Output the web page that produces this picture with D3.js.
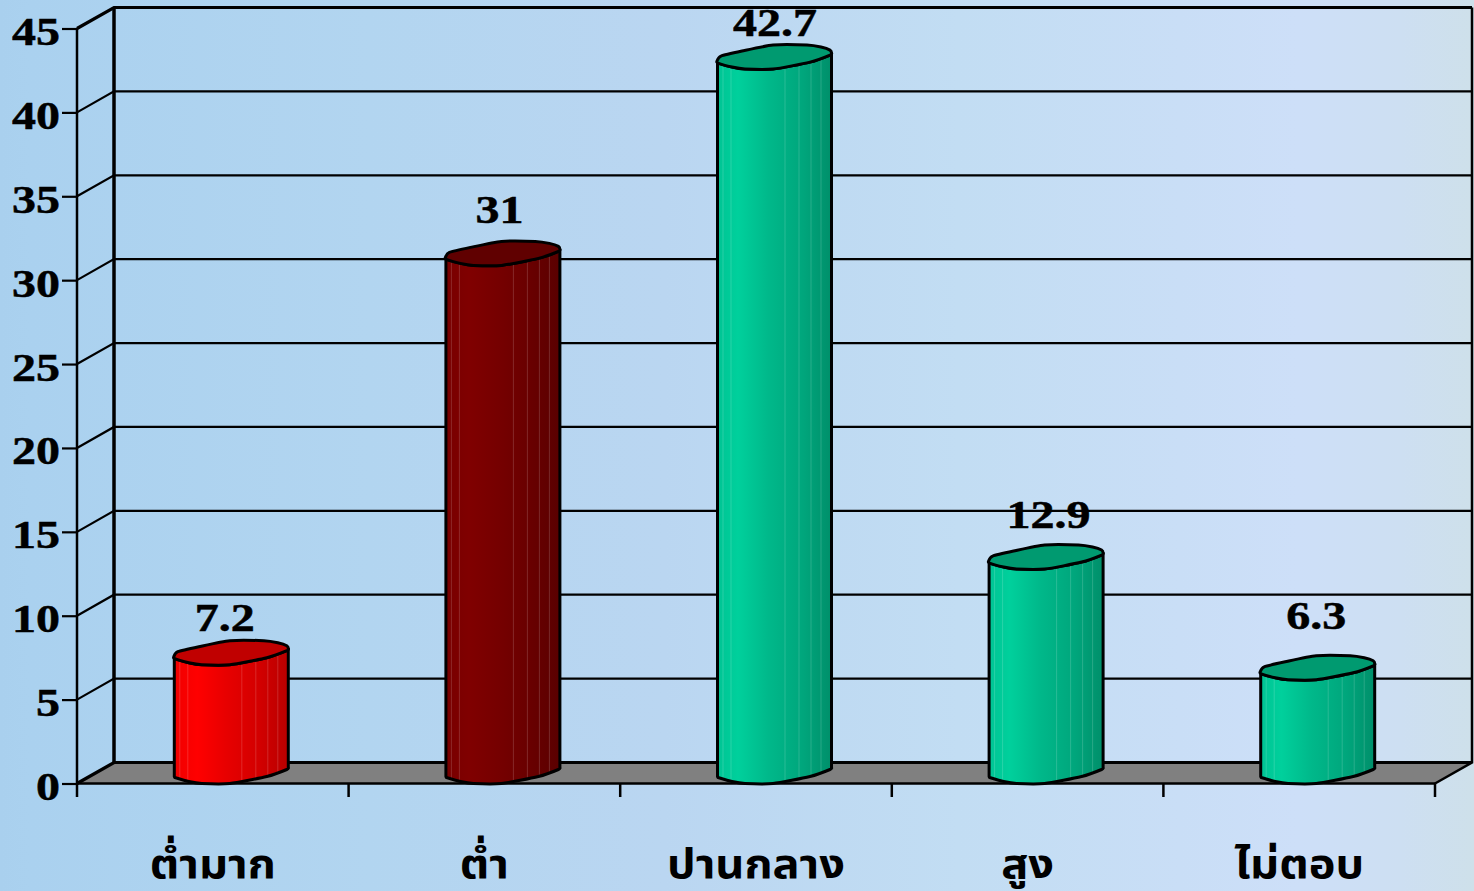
<!DOCTYPE html>
<html><head><meta charset="utf-8">
<style>html,body{margin:0;padding:0;overflow:hidden;background:#b8d6f0}svg{display:block}</style>
<script src="https://cdn.jsdelivr.net/npm/d3@7/dist/d3.min.js"></script>
</head><body><svg id="c" width="1474" height="891"></svg>
<script>
const categories = ["ต่ำมาก","ต่ำ","ปานกลาง","สูง","ไม่ตอบ"];
const values = [7.2,31,42.7,12.9,6.3];
const valueLabels = ["7.2","31","42.7","12.9","6.3"];
const yTicks = [0,5,10,15,20,25,30,35,40,45];
const colorKeys = ["red","maroon","green","green","green"];

const W=1474,H=891, X0=77,X1=1435, Y0=783.5,Y45=28.5, DX=37,DY=-21;
const NUM='"Liberation Serif","Times New Roman",serif';
const THAI='"Liberation Serif","Noto Sans Thai","Noto Serif Thai",Loma,"Noto Sans",serif';
const NUM_STRETCH=1.2, THAI_STRETCH=1.1;
const svg=d3.select("#c"), defs=svg.append("defs");
const x=d3.scaleBand().domain(categories).range([X0,X1]);
const y=d3.scaleLinear().domain([0,45]).range([Y0,Y45]);

function grad(id,stops){const g=defs.append("linearGradient").attr("id",id);
  stops.forEach(s=>g.append("stop").attr("offset",s[0]).attr("stop-color",s[1]));}
grad("bg",[[0,"#a9d0ee"],[.02,"#aad1ef"],[.25,"#b2d5f0"],[.45,"#bad6f1"],[.65,"#c2ddf3"],[.8,"#c9def6"],[.88,"#cddff8"],[.95,"#cddff2"],[1,"#cee0ea"]]);
grad("red",[[0,"#f00000"],[.2,"#ff0000"],[.45,"#e80000"],[.75,"#d20000"],[1,"#b80000"]]);
grad("maroon",[[0,"#780000"],[.2,"#800000"],[.5,"#740000"],[.75,"#680000"],[1,"#5a0000"]]);
grad("green",[[0,"#00c494"],[.18,"#00d09c"],[.45,"#00b88a"],[.75,"#00a67c"],[1,"#008f6a"]]);
const capColor={red:"#c00000",maroon:"#600000",green:"#009a70"};

svg.append("rect").attr("width",W).attr("height",H).attr("fill","url(#bg)");

// walls, floor and gridlines
svg.append("polygon").attr("fill","#808080")
  .attr("points",[[X0,Y0],[X0+DX,Y0+DY],[X1+DX,Y0+DY],[X1,Y0]].join(" "));
const grid=svg.append("g").attr("fill","none").attr("stroke","#000");
grid.selectAll("path").data(yTicks).join("path")
  .attr("stroke-width",d=>d===45||d===0?3.2:2.2)
  .attr("d",d=>`M${X0},${y(d)}L${X0+DX},${y(d)+DY}L${X1+DX},${y(d)+DY}`);
grid.append("path").attr("stroke-width",3.5).attr("d",`M${X0+DX},${Y45+DY}V${Y0+DY}`);
grid.append("path").attr("stroke-width",2.5).attr("d",`M${X1+DX},${Y45+DY}V${Y0+DY}L${X1},${Y0}`);

// axes
const yAxis=d3.axisLeft(y).tickValues(yTicks).tickSize(15).tickPadding(3).tickFormat(d3.format("d"));
const gy=svg.append("g").attr("transform",`translate(${X0},0)`).call(yAxis);
gy.select(".domain").attr("stroke","#000").attr("stroke-width",2.5).attr("d",`M0,${Y45}V${Y0}`);
gy.selectAll("line").attr("stroke","#000").attr("stroke-width",2.2);
gy.selectAll("text").attr("font-family",NUM).attr("font-weight",700).attr("font-size",40).attr("fill","#000")
  .attr("stroke","#000").attr("stroke-width",.5)
  .attr("x",-17/NUM_STRETCH).attr("dy","0.4em").attr("transform",`scale(${NUM_STRETCH},1)`);

const xAxis=d3.axisBottom(x).tickSize(0).tickPadding(0).tickFormat("");
const gx=svg.append("g").attr("transform",`translate(0,${Y0})`).call(xAxis);
gx.select(".domain").attr("stroke","#000").attr("stroke-width",2.5).attr("d",`M${X0},0H${X1}`);
gx.selectAll(".tick").remove();
gx.selectAll("line.t").data(d3.range(categories.length+1)).join("line").attr("class","t")
  .attr("x1",i=>X0+i*x.bandwidth()).attr("x2",i=>X0+i*x.bandwidth())
  .attr("y1",0).attr("y2",13.5).attr("stroke","#000").attr("stroke-width",2.5);

// cylinders: the outline is derived from the scales
const upper=[[0,-6],[4,-11],[25,-16],[56,-22],[90,-22],[104,-20],[113,-17]];
const lower=[[114.5,-14],[113,-12],[93,-5],[56,2],[28,2],[15,0],[1,-4]];
const stripes=[6,14,68,82,94,104];
const closed=d3.line().curve(d3.curveCardinalClosed.tension(.35));
const open=d3.line().curve(d3.curveCardinal.tension(.35));
const BAR_LEFT=-39, BOTTOM_SHIFT=-2;
const at=(pts,ox,oy)=>pts.map(p=>[p[0]+ox,p[1]+oy]);

const bars=svg.selectAll("g.bar").data(values).join("g").attr("class","bar");
bars.each(function(v,i){
  const g=d3.select(this), cx=x(categories[i])+x.bandwidth()/2, ox=cx+BAR_LEFT, top=y(v);
  const lowT=at(lower,ox,top), lowB=at(lower,ox,Y0+BOTTOM_SHIFT);
  const body=open(lowT)+`L${ox+.5},${top-5}V${Y0+BOTTOM_SHIFT-5}`+open(lowB.slice().reverse()).replace(/^M/,"L")+`L${ox+114.5},${top-14}Z`;
  defs.append("clipPath").attr("id","cp"+i).append("path").attr("d",body);
  g.append("path").attr("d",body).attr("fill",`url(#${colorKeys[i]})`);
  g.append("g").attr("clip-path",`url(#cp${i})`).selectAll("line").data(stripes).join("line")
    .attr("x1",s=>ox+s).attr("x2",s=>ox+s).attr("y1",top-25).attr("y2",Y0+5)
    .attr("stroke","#fff").attr("stroke-opacity",.16).attr("stroke-width",1);
  g.append("path").attr("d",body).attr("fill","none").attr("stroke","#000").attr("stroke-width",3).attr("stroke-linejoin","round");
  g.append("path").attr("d",closed(at(upper.concat(lower),ox,top)))
    .attr("fill",capColor[colorKeys[i]]).attr("stroke","#000").attr("stroke-width",3);
});

// value labels
const labelDx=[12,15,19,21,17], labelGap=[9,17,8,16,26];
svg.selectAll("text.v").data(values).join("text").attr("class","v")
  .attr("transform",(v,i)=>`translate(${x(categories[i])+x.bandwidth()/2+labelDx[i]},${y(v)-23-labelGap[i]}) scale(${NUM_STRETCH},1)`)
  .attr("text-anchor","middle").attr("font-family",NUM).attr("font-weight",700).attr("font-size",40)
  .attr("stroke","#000").attr("stroke-width",.5)
  .text((v,i)=>valueLabels[i]);

// category labels
svg.selectAll("text.c").data(categories).join("text").attr("class","c")
  .attr("transform",d=>`translate(${x(d)+x.bandwidth()/2},878) scale(${THAI_STRETCH},1)`)
  .attr("text-anchor","middle").attr("font-family",THAI).attr("font-weight",700).attr("font-size",41)
  .text(d=>d);
</script></body></html>
